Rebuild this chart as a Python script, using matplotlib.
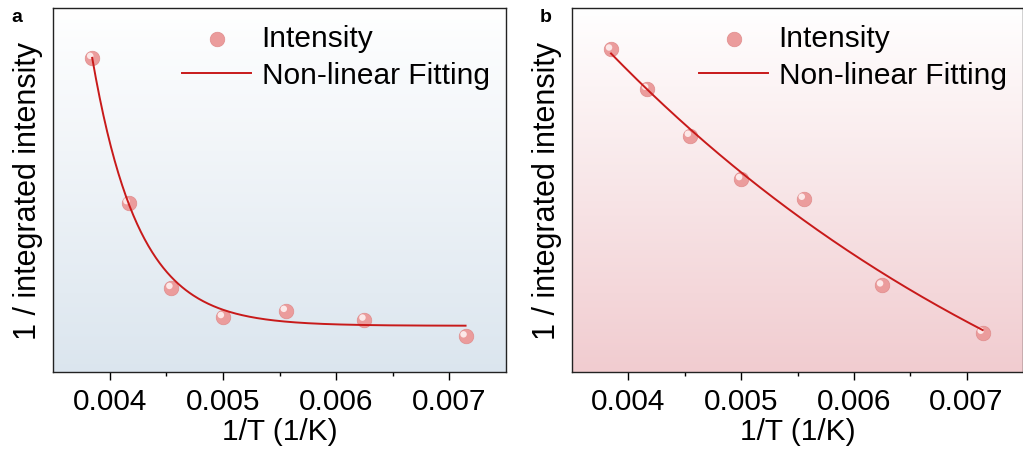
import numpy as np
import matplotlib
matplotlib.use("Agg")
import matplotlib.pyplot as plt
from matplotlib.transforms import offset_copy

plt.rcParams['font.family'] = ['Liberation Sans', 'DejaVu Sans']

# temperatures (K) -> x = 1/T
temps = [260, 240, 220, 200, 180, 160, 140]
# 1 / integrated intensity, arbitrary units
inv_int_a = [0.863, 0.464, 0.231, 0.151, 0.168, 0.144, 0.098]
inv_int_b = [0.886, 0.778, 0.649, 0.530, 0.476, 0.238, 0.108]

# non-linear fit y = A*exp(-(x-x0)/t) + y0, parameters
fit_a = {"A": 0.736, "t": 0.00041, "y0": 0.127}
fit_b = {"A": 1.534, "t": 0.00482, "y0": -0.659}

bg_a = ((1.0, 1.0, 1.0), (0.86, 0.90, 0.935))
bg_b = ((1.0, 1.0, 1.0), (0.945, 0.80, 0.815))

W, H = 1023, 460
FS = 21.5


def gradient(ax, top, bottom):
    n = 256
    t = np.linspace(0, 1, n)[:, None]
    img = np.array(top)[None, :] * (1 - t) + np.array(bottom)[None, :] * t
    img = img[:, None, :]
    ax.imshow(img, extent=(0, 1, 0, 1), transform=ax.transAxes,
              aspect='auto', zorder=0, interpolation='bilinear')


def panel(ax, yvals, fit, bg):
    x = 1.0 / np.array(temps)
    gradient(ax, *bg)
    xx = np.linspace(x.min(), x.max(), 300)
    yy = fit["A"] * np.exp(-(xx - x.min()) / fit["t"]) + fit["y0"]
    ax.scatter(x, yvals, s=110, color='#eb9c9c', edgecolor='#e08c8c',
               linewidth=0.5, zorder=2)
    hl = offset_copy(ax.transData, fig=ax.figure, x=-2.0, y=2.0, units='dots')
    ax.scatter(x, yvals, s=22, color='#fce8e8', edgecolor='none',
               transform=hl, zorder=2.5)
    ax.plot(xx, yy, color='#c81a1a', lw=1.4, zorder=3)

    h1 = ax.scatter([], [], s=110, color='#eb9c9c', edgecolor='#e08c8c',
                    linewidth=0.5)
    h2, = ax.plot([], [], color='#c81a1a', lw=1.4)
    ax.legend([h1, h2], ['Intensity', 'Non-linear Fitting'],
              loc='upper right', frameon=False, fontsize=FS,
              handlelength=2.3, handletextpad=0.35, labelspacing=0.3,
              borderaxespad=0.45, borderpad=0.1)

    ax.set_xlim(0.0035, 0.0075)
    ax.set_ylim(0, 1)
    ax.set_xticks([0.004, 0.005, 0.006, 0.007])
    ax.set_xticklabels(['0.004', '0.005', '0.006', '0.007'])
    ax.set_xticks([0.0045, 0.0055, 0.0065], minor=True)
    ax.set_yticks([])
    ax.tick_params(axis='x', which='major', direction='out', length=6,
                   width=1.0, labelsize=FS, pad=5)
    ax.tick_params(axis='x', which='minor', direction='out', length=3,
                   width=1.0)
    ax.set_xlabel('1/T (1/K)', fontsize=FS, labelpad=1)
    ax.set_ylabel('1 / integrated intensity', fontsize=22, labelpad=7)
    for sp in ax.spines.values():
        sp.set_linewidth(1.0)
        sp.set_color('#222222')
    return ax


fig = plt.figure(figsize=(W / 100, H / 100), dpi=100)
ax_a = fig.add_axes([53 / W, (H - 373) / H, (506 - 53) / W, 364 / H])
ax_b = fig.add_axes([572 / W, (H - 373) / H, (1023 - 572) / W, 364 / H])
panel(ax_a, inv_int_a, fit_a, bg_a)
panel(ax_b, inv_int_b, fit_b, bg_b)

fig.text(11 / W, 1 - 17 / H, 'a', fontsize=14, fontweight='bold',
         ha='left', va='center')
fig.text(540 / W, 1 - 17 / H, 'b', fontsize=14, fontweight='bold',
         ha='left', va='center')

fig.savefig('out.png', dpi=100)
